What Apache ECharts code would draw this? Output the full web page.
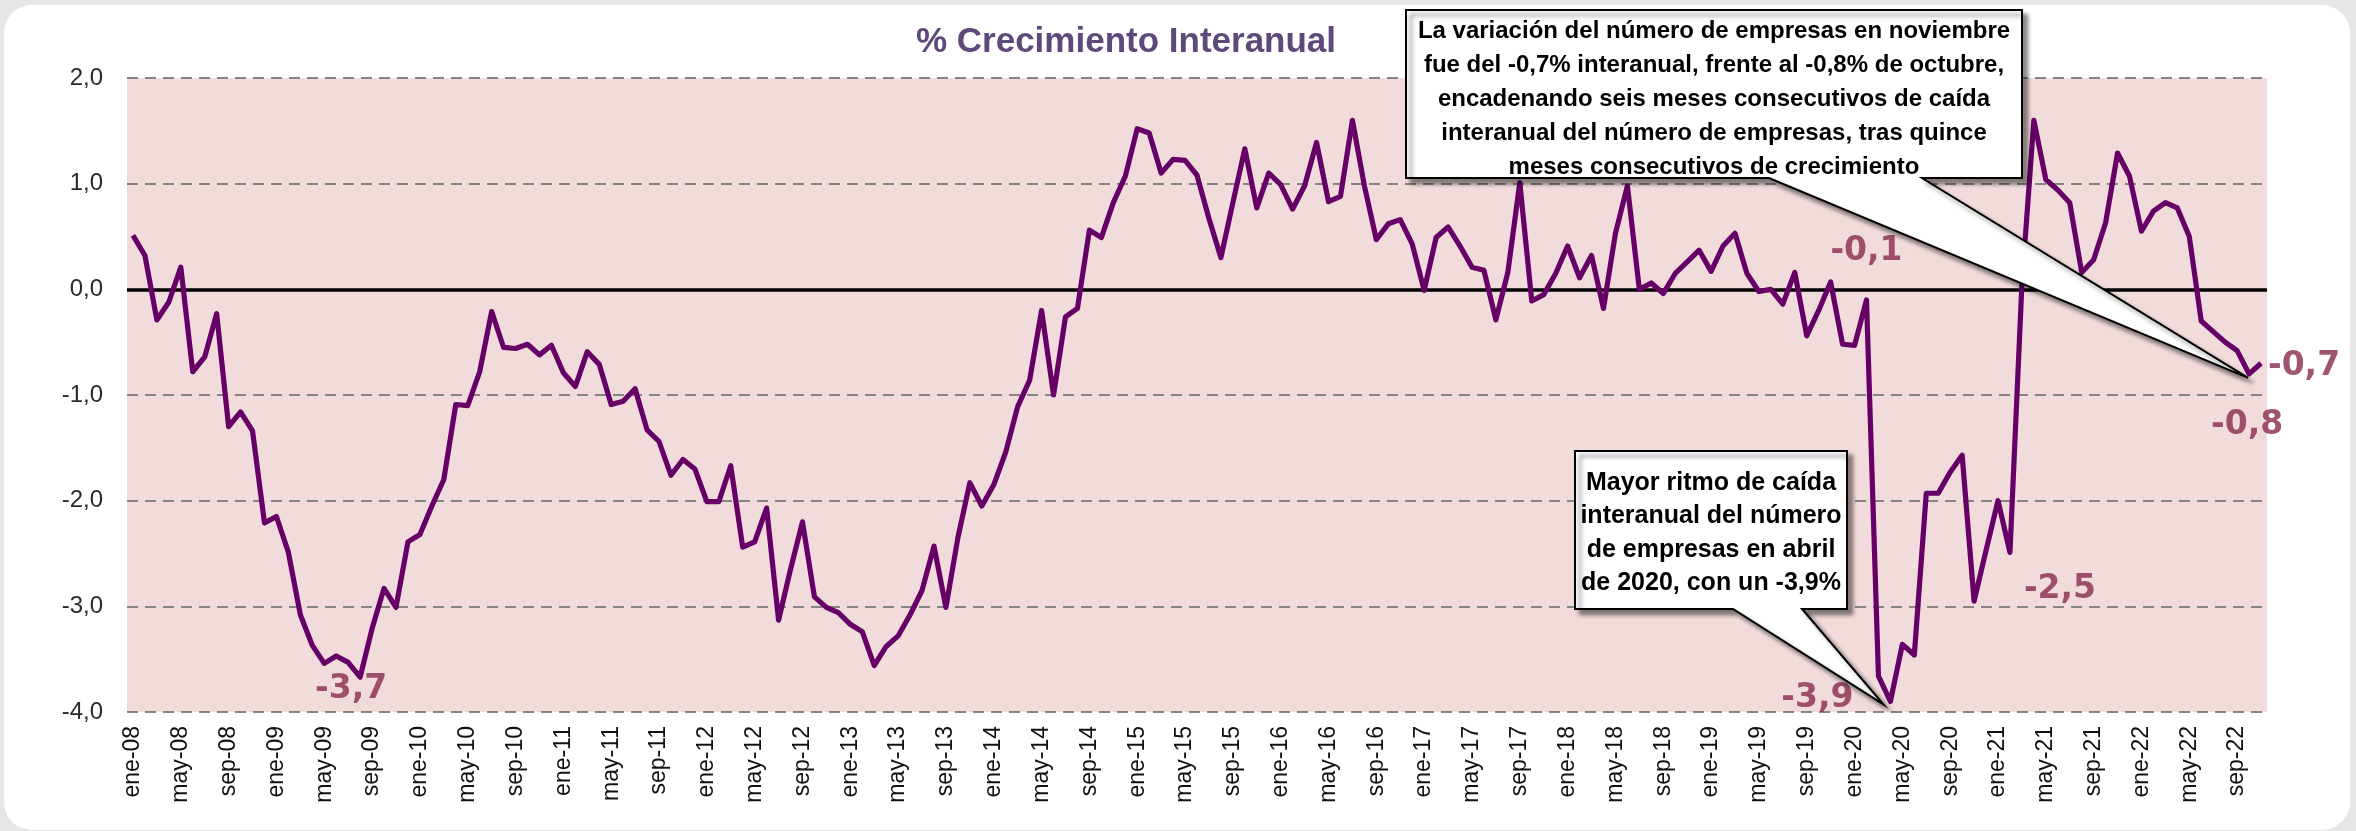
<!DOCTYPE html>
<html>
<head>
<meta charset="utf-8">
<script src="https://cdn.jsdelivr.net/npm/echarts@6/dist/echarts.min.js"></script>
<style>
  html, body { margin: 0; padding: 0; background: #e7e7e7; }
  #frame { position: absolute; left: 4px; top: 5px; width: 2346px; height: 825px; background: #fff; border-radius: 28px; }
  #chart { position: absolute; left: 0; top: 0; width: 2356px; height: 831px; }
</style>
</head>
<body>
<div id="frame"></div>
<div id="chart"></div>
<script>
// meses y años del eje
var monthNames = ['ene', 'feb', 'mar', 'abr', 'may', 'jun', 'jul', 'ago', 'sep', 'oct', 'nov', 'dic'];
var yearLabels = ['08', '09', '10', '11', '12', '13', '14', '15', '16', '17', '18', '19', '20', '21', '22'];

// % crecimiento interanual
var y2008 = [0.51, 0.32, -0.29, -0.12, 0.21, -0.78, -0.64, -0.23, -1.30, -1.16, -1.34, -2.21];
var y2009 = [-2.15, -2.49, -3.08, -3.37, -3.54, -3.47, -3.53, -3.67, -3.21, -2.83, -3.01, -2.39];
var y2010 = [-2.32, -2.05, -1.80, -1.09, -1.10, -0.78, -0.21, -0.55, -0.56, -0.52, -0.62, -0.53];
var y2011 = [-0.79, -0.92, -0.59, -0.71, -1.09, -1.06, -0.94, -1.33, -1.44, -1.76, -1.61, -1.70];
var y2012 = [-2.01, -2.01, -1.67, -2.44, -2.39, -2.07, -3.13, -2.65, -2.20, -2.91, -3.01, -3.06];
var y2013 = [-3.17, -3.24, -3.56, -3.38, -3.28, -3.08, -2.85, -2.43, -3.01, -2.35, -1.83, -2.05];
var y2014 = [-1.85, -1.54, -1.11, -0.86, -0.20, -1.00, -0.26, -0.18, 0.56, 0.49, 0.82, 1.07];
var y2015 = [1.52, 1.48, 1.10, 1.23, 1.22, 1.08, 0.67, 0.30, 0.82, 1.33, 0.77, 1.10];
var y2016 = [0.99, 0.76, 0.98, 1.39, 0.83, 0.88, 1.60, 0.98, 0.47, 0.62, 0.66, 0.43];
var y2017 = [-0.01, 0.49, 0.59, 0.41, 0.21, 0.18, -0.29, 0.16, 1.01, -0.11, -0.05, 0.15];
var y2018 = [0.41, 0.11, 0.32, -0.18, 0.53, 0.98, 0.00, 0.06, -0.04, 0.15, 0.26, 0.37];
var y2019 = [0.17, 0.41, 0.53, 0.15, -0.02, 0.00, -0.14, 0.16, -0.44, -0.20, 0.07, -0.52];
var y2020 = [-0.53, -0.1, -3.66, -3.9, -3.36, -3.46, -1.93, -1.93, -1.73, -1.57, -2.95, -2.47];
var y2021 = [-2.00, -2.49, 0.05, 1.60, 1.04, 0.94, 0.82, 0.16, 0.28, 0.63, 1.29, 1.07];
var y2022 = [0.55, 0.74, 0.82, 0.77, 0.50, -0.30, -0.40, -0.50, -0.58, -0.8, -0.7];

var growth = [].concat(y2008, y2009, y2010, y2011, y2012, y2013, y2014, y2015,
  y2016, y2017, y2018, y2019, y2020, y2021, y2022);

var categories = [];
yearLabels.forEach(function (yy) {
  monthNames.forEach(function (m) {
    if (categories.length < growth.length) categories.push(m + '-' + yy);
  });
});

// puntos con etiqueta (índice de mes) y desplazamiento de la etiqueta
var labelled = [19, 145, 147, 157, 177, 178];
var labelOffsets = { 19: [-9, 12], 145: [0, -48], 147: [-73, -3], 157: [50, 37], 177: [-2, 52], 178: [43, 3] };

var topNote = 'La variación del número de empresas en noviembre\n' +
  'fue del -0,7% interanual, frente al -0,8% de octubre,\n' +
  'encadenando seis meses consecutivos de caída\n' +
  'interanual del número de empresas, tras quince\n' +
  'meses consecutivos de crecimiento';
var bottomNote = 'Mayor ritmo de caída\ninteranual del número\nde empresas en abril\nde 2020, con un -3,9%';

function fmt(v) {
  return v.toFixed(1).replace('.', ',');
}

function hasFont(name) {
  var ctx = document.createElement('canvas').getContext('2d');
  ctx.font = '40px monospace';
  var a = ctx.measureText('abcdefghijklmnopqrstuvwxyz').width;
  ctx.font = '40px "' + name + '", monospace';
  var b = ctx.measureText('abcdefghijklmnopqrstuvwxyz').width;
  return a !== b;
}

var narrow = hasFont('Liberation Sans Narrow');
var narrowFamily = narrow ? '"Liberation Sans Narrow"' : '"Liberation Sans", Arial';
var titleSize = narrow ? 42 : 35;
var noteSize = narrow ? 29 : 24;

var chartDom = document.getElementById('chart');
var myChart = echarts.init(chartDom);

var option = {
  animation: false,
  backgroundColor: 'transparent',
  title: {
    text: '% Crecimiento Interanual',
    left: 1121,
    top: 20,
    textAlign: 'center',
    textStyle: {
      fontFamily: narrowFamily,
      fontWeight: 'bold',
      fontSize: titleSize,
      color: '#5f497a'
    }
  },
  grid: {
    left: 127,
    right: 89,
    top: 78,
    bottom: 119,
    show: true,
    backgroundColor: '#f2dcdb',
    borderWidth: 0
  },
  xAxis: {
    type: 'category',
    data: categories,
    boundaryGap: true,
    axisLine: { show: false },
    axisTick: { show: false },
    splitLine: { show: false },
    axisLabel: {
      interval: 3,
      rotate: 90,
      margin: 14,
      fontFamily: '"Liberation Sans", Arial, sans-serif',
      fontSize: 23,
      color: '#111'
    }
  },
  yAxis: {
    type: 'value',
    min: -4,
    max: 2,
    interval: 1,
    axisLine: { show: false },
    axisTick: { show: false },
    axisLabel: {
      formatter: fmt,
      margin: 24,
      fontFamily: '"Liberation Sans", Arial, sans-serif',
      fontSize: 24,
      color: '#2a2a2a'
    },
    splitLine: {
      lineStyle: { color: '#858585', width: 2.2, type: [11, 7] }
    }
  },
  series: [
    {
      type: 'line',
      data: [],
      z: 1,
      markLine: {
        silent: true,
        symbol: 'none',
        label: { show: false },
        lineStyle: { color: '#000', width: 3.5, type: 'solid' },
        data: [{ yAxis: 0 }]
      }
    },
    {
      type: 'line',
      data: growth,
      z: 5,
      symbol: 'none',
      lineStyle: { color: '#660066', width: 5.2, join: 'round' },
      itemStyle: { color: '#660066' }
    },
    {
      type: 'scatter',
      z: 6,
      symbolSize: 1,
      itemStyle: { color: 'rgba(0,0,0,0)' },
      label: {
        show: true,
        position: 'inside',
        formatter: function (p) { return fmt(p.value[1]); },
        fontFamily: '"DejaVu Sans", sans-serif',
        fontWeight: 'bold',
        fontSize: 33,
        color: '#862a4e'
      },
      data: labelled.map(function (i) {
        return { value: [i, growth[i]], label: { offset: labelOffsets[i] } };
      })
    }
  ]
};

myChart.setOption(option);

function callout(box, base, tip, text, textY, font, lineHeight) {
  return [
    {
      type: 'polygon',
      z: 50,
      shape: {
        points: [
          [box[0], box[1]], [box[2], box[1]], [box[2], box[3]], [base[1], box[3]],
          tip, [base[0], box[3]], [box[0], box[3]]
        ]
      },
      style: {
        fill: '#fff',
        stroke: '#000',
        lineWidth: 2,
        shadowBlur: 4,
        shadowOffsetX: 5,
        shadowOffsetY: 5,
        shadowColor: 'rgba(0,0,0,0.45)'
      }
    },
    {
      type: 'text',
      z: 51,
      x: (box[0] + box[2]) / 2,
      y: textY,
      style: {
        text: text,
        font: font,
        align: 'center',
        verticalAlign: 'middle',
        textAlign: 'center',
        textVerticalAlign: 'middle',
        lineHeight: lineHeight,
        fill: '#000'
      }
    }
  ];
}

var tipOct = myChart.convertToPixel({ seriesIndex: 1 }, [177, growth[177]]);
var tipAbr = myChart.convertToPixel({ seriesIndex: 1 }, [147, growth[147]]);

myChart.setOption({
  graphic: [].concat(
    callout([1406, 10, 2022, 178], [1769, 1922], [tipOct[0] - 1, tipOct[1] + 4], topNote, 99,
      'bold ' + noteSize + 'px ' + narrowFamily + ', sans-serif', 34),
    callout([1575, 451, 1847, 609], [1733, 1802], [tipAbr[0] - 7, tipAbr[1] + 3], bottomNote, 533,
      'bold 25px "Liberation Sans", Arial, sans-serif', 33.5)
  )
});
</script>
</body>
</html>
